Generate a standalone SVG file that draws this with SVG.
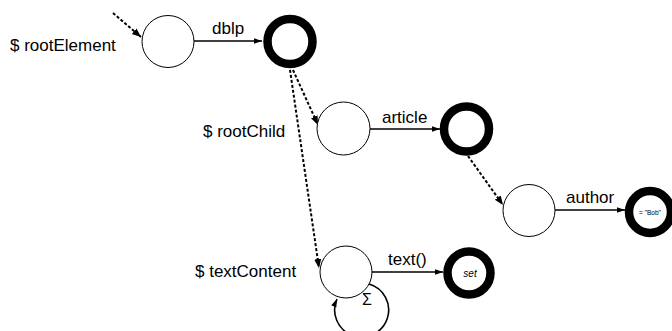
<svg xmlns="http://www.w3.org/2000/svg" width="672" height="331" viewBox="0 0 672 331">
<defs>
<marker id="ah" viewBox="0 0 10 10" refX="10" refY="5" markerWidth="9" markerHeight="9" markerUnits="userSpaceOnUse" orient="auto">
<path d="M0,1 L10,5 L0,9 z" fill="#000"/>
</marker>
<marker id="ahs" viewBox="0 0 10 10" refX="10" refY="5" markerWidth="12" markerHeight="8" markerUnits="userSpaceOnUse" orient="auto">
<path d="M0,1.5 L10,5 L0,8.5 z" fill="#000"/>
</marker>
</defs>
<style>
.n{fill:#fff;stroke:#000;stroke-width:1}
.f{fill:#fff;stroke:#000;stroke-width:8.5}
.e{fill:none;stroke:#000;stroke-width:1.6}
.d{fill:none;stroke:#000;stroke-width:2;stroke-dasharray:3,2}
text{font-family:"Liberation Sans",Arial,sans-serif;fill:#000}
.l{font-size:17px}
</style>
<rect width="672" height="331" fill="#fff"/>
<g id="connectors">
<path class="d" d="M113,13 L141,37" marker-end="url(#ah)"/>
<path class="e" d="M194,41 L262,41" marker-end="url(#ahs)"/>
<path class="d" d="M293,70 L318,125" marker-end="url(#ah)"/>
<path class="d" d="M290,70 L319,268" marker-end="url(#ah)"/>
<path class="e" d="M370,129 L440,129" marker-end="url(#ahs)"/>
<path class="d" d="M468,156 L503,205" marker-end="url(#ah)"/>
<path class="e" d="M555,210 L625,210" marker-end="url(#ahs)"/>
<path class="e" d="M372,272 L443,272" marker-end="url(#ahs)"/>
<path class="e" d="M369,284 A27,27 0 1 1 337,299" marker-end="url(#ahs)"/>
</g>
<g id="rootElement">
<circle class="n" cx="168" cy="41.5" r="26"/>
<text class="l" x="10" y="51">$ rootElement</text>
</g>
<g id="dblp">
<circle class="f" cx="290" cy="41.5" r="22.5"/>
<text class="l" x="212" y="34">dblp</text>
</g>
<g id="rootChild">
<circle class="n" cx="343.5" cy="128.5" r="26.5"/>
<text class="l" x="203" y="137">$ rootChild</text>
</g>
<g id="article">
<circle class="f" cx="466.5" cy="129" r="22.5"/>
<text class="l" x="382" y="123">article</text>
</g>
<g id="authorSrc">
<circle class="n" cx="529" cy="210.5" r="26"/>
</g>
<g id="author">
<circle class="f" cx="650" cy="212" r="21"/>
<text class="l" x="566" y="203">author</text>
<text x="650" y="214.5" font-size="6.5" text-anchor="middle">= "Bob"</text>
</g>
<g id="textContent">
<circle class="n" cx="346" cy="272" r="26"/>
<text class="l" x="195" y="277">$ textContent</text>
<text x="362" y="305" font-size="16">Σ</text>
</g>
<g id="text">
<circle class="f" cx="469" cy="273" r="21.5"/>
<text class="l" x="388" y="265">text()</text>
<text x="470" y="276.5" font-size="10" font-style="italic" text-anchor="middle">set</text>
</g>
</svg>
